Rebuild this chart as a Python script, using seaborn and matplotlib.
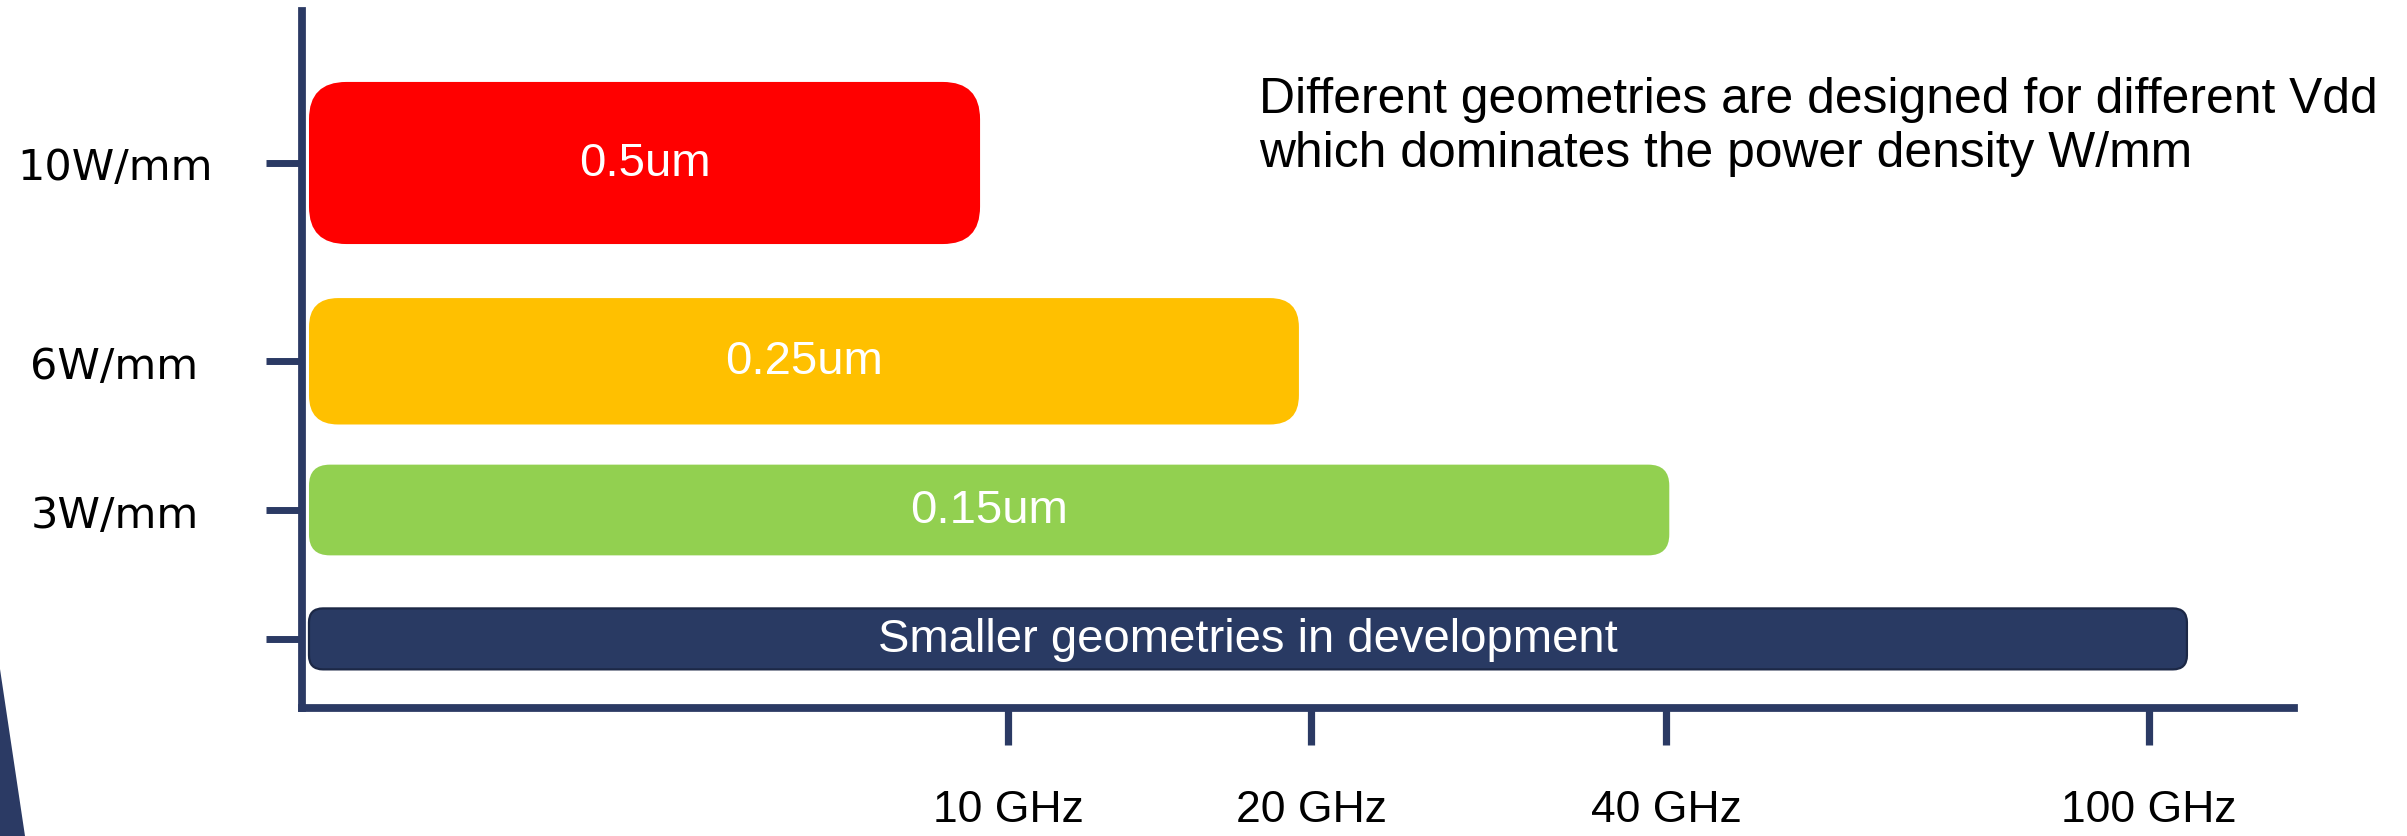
import numpy as np
import pandas as pd
import seaborn as sns
import matplotlib.pyplot as plt
from matplotlib.patches import FancyBboxPatch, Polygon
from matplotlib.transforms import IdentityTransform

# ---- data ----
geometries = ["0.5um", "0.25um", "0.15um", "Smaller geometries in development"]
max_freq_ghz = [9.6, 19.6, 40.4, 104.7]
power_density = [10, 6, 3, 0.4]
density_labels = ["10W/mm", "6W/mm", "3W/mm", ""]
freq_ticks = [10, 20, 40, 100]
freq_labels = ["10 GHz", "20 GHz", "40 GHz", "100 GHz"]

# ---- styling ----
bar_colors = ["#FF0000", "#FFC000", "#92D050", "#293A63"]
bar_edges = ["none", "none", "none", "#1C2846"]
bar_thickness = [3.27, 2.55, 1.83, 1.23]   # in W/mm units of the vertical axis
NAVY = "#2B3A64"

sns.set_theme(style="white")
plt.rcParams["font.family"] = ["Liberation Sans", "DejaVu Sans"]

df = pd.DataFrame({"geometry": geometries, "freq": max_freq_ghz,
                   "density": power_density})

W, H, DPI = 2407, 837, 100
fig = plt.figure(figsize=(W / DPI, H / DPI), dpi=DPI)
ax = fig.add_axes([302 / W, (H - 709) / H, 1992 / W, 697 / H])

sns.barplot(data=df, x="freq", y="density", orient="y", native_scale=True,
            color=bar_colors[0], ax=ax, errorbar=None)

# schematic (non-uniform) frequency axis
anchor_ghz = np.array([-100, 0, 10, 20, 40, 100, 1000], dtype=float)
anchor_pos = np.array([-6990, 0, 699, 1002, 1357, 1840, 9085], dtype=float)


def fwd(x):
    return np.interp(x, anchor_ghz, anchor_pos)


def inv(p):
    return np.interp(p, anchor_pos, anchor_ghz)


ax.set_xscale("function", functions=(fwd, inv))
ax.set_xlim(-0.1, 118.0)
ax.set_ylim(-0.994, 13.066)

# replace the plain rectangles with rounded boxes
rects = list(ax.patches)
for rect in rects:
    v = rect.get_width()
    i = int(np.argmin([abs(v - f) for f in max_freq_ghz]))
    yc = power_density[i]
    th = bar_thickness[i]
    (x0, y0), (x1, y1) = ax.transData.transform([(0, yc - th / 2), (v, yc + th / 2)])
    h = y1 - y0
    r = 0.23 * h
    box = FancyBboxPatch((x0, y0), x1 - x0, h,
                         boxstyle=f"round,pad=0,rounding_size={r}",
                         facecolor=bar_colors[i], edgecolor=bar_edges[i],
                         linewidth=1.6 if bar_edges[i] != "none" else 0,
                         transform=IdentityTransform(), clip_on=False, zorder=3)
    ax.add_patch(box)
    rect.set_visible(False)
    xc = inv((fwd(0) + fwd(v)) / 2)
    ax.text(xc, yc, geometries[i], ha="center", va="center", color="white",
            fontsize=34, zorder=4)

# axes styling
for side in ["top", "right"]:
    ax.spines[side].set_visible(False)
for side in ["left", "bottom"]:
    ax.spines[side].set_color(NAVY)
    ax.spines[side].set_linewidth(5.6)

ax.set_xticks(freq_ticks, freq_labels)
ax.set_yticks(power_density, density_labels)
ax.minorticks_off()
ax.tick_params(axis="x", length=26.5, width=5.2, color=NAVY, pad=32,
               labelsize=32, labelcolor="black", bottom=True)
ax.tick_params(axis="y", length=26, width=5.0, color=NAVY, pad=109,
               labelsize=31, labelcolor="black", left=True)
for lab in ax.get_yticklabels():
    lab.set_horizontalalignment("center")
    lab.set_fontfamily("DejaVu Sans")
ax.set_xlabel("")
ax.set_ylabel("")
ax.grid(False)

ax.text(1259 / W, 1 - 127 / H,
        "Different geometries are designed for different Vdd\n"
        "which dominates the power density W/mm",
        transform=fig.transFigure, ha="left", va="center", fontsize=35.8,
        linespacing=1.2, color="black")

# corner decoration
fig.patches.append(Polygon([(0, 1 - 670 / H), (25 / W, 0), (0, 0)], closed=True,
                           transform=fig.transFigure, facecolor=NAVY,
                           edgecolor="none"))

fig.savefig("out.png", dpi=DPI)
